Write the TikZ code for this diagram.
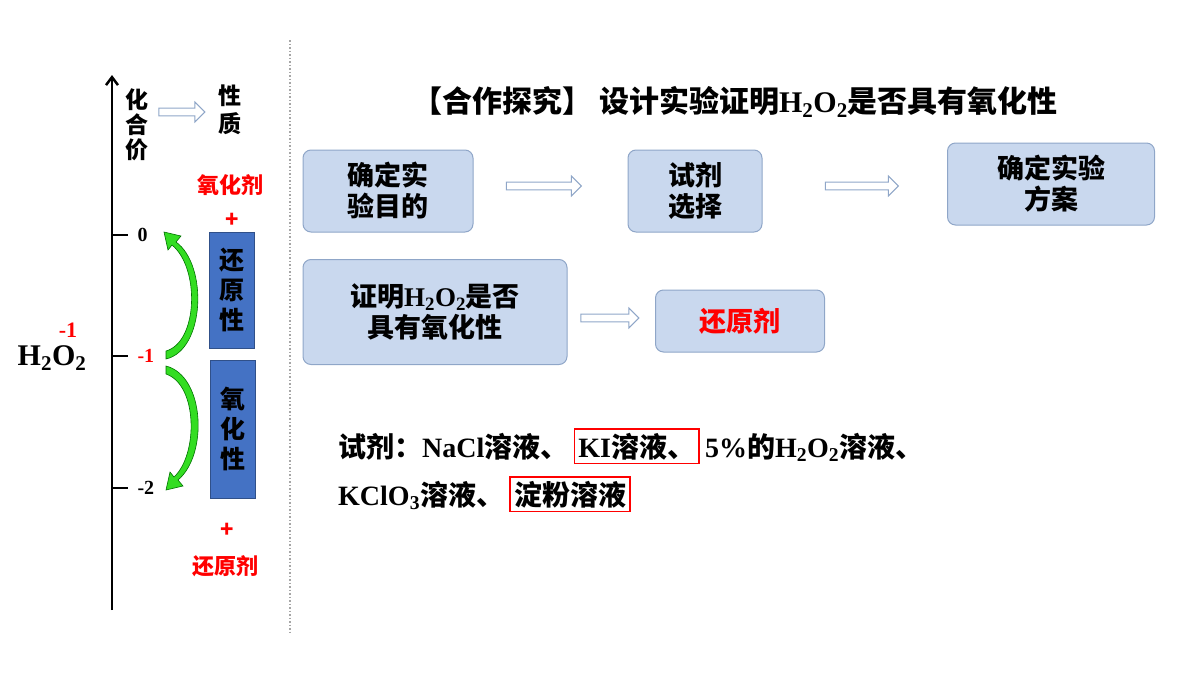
\documentclass[tikz,border=0pt]{standalone}
\usepackage{fontspec}
\setmainfont{Noto Sans CJK SC}
\newfontfamily\lat{Liberation Serif}
\usetikzlibrary{positioning,shapes.arrows,arrows.meta}
\newcommand{\hoo}{{\lat H\textsubscript{2}O\textsubscript{2}}}
\definecolor{boxfill}{HTML}{C9D8EE}
\definecolor{boxline}{HTML}{8FA6C8}
\definecolor{barblue}{HTML}{4472C4}
\definecolor{arrgreen}{HTML}{33DD22}
\tikzset{
  stagebox/.style={draw=boxline, fill=boxfill, rounded corners=8pt, line width=1pt,
    font=\bfseries\fontsize{27}{31}\selectfont, align=center, inner sep=0pt},
  hollowarr/.style={single arrow, draw=boxline, fill=white, line width=1pt,
    minimum height=#1, minimum width=20pt, single arrow head extend=4pt, inner sep=2pt},
  bluebar/.style={fill=barblue, draw=barblue!70!black, font=\bfseries\fontsize{25}{30}\selectfont,
    align=center, inner sep=0pt, minimum width=45pt},
  redlabel/.style={text=red, font=\bfseries\fontsize{22}{26}\selectfont},
  ticklabel/.style={font=\lat\bfseries\fontsize{20}{24}\selectfont},
  bodytext/.style={font=\bfseries\fontsize{28}{32}\selectfont, inner sep=2pt, anchor=base west},
  greenarc/.style={draw=green!45!black, line width=0.6pt, fill=arrgreen},
}
\begin{document}
\begin{tikzpicture}[x=1pt,y=-1pt]
\useasboundingbox (0,0) rectangle (1200,675);
% axis
\coordinate (bot) at (112,610);
\coordinate (top) at (112,75);
\draw[line width=2.5pt, -{Straight Barb[length=8pt,width=12pt]}] (bot) -- (top);
\foreach \y/\v/\c [count=\i] in {235/0/black,356/-1/red,488/-2/black}{
  \draw[line width=2pt] (112,\y) -- (128,\y);
  \node[ticklabel, text=\c, anchor=west] (t\i) at (134,\y) {\v};
}
\node[font=\bfseries\fontsize{23}{25}\selectfont, align=center] (hhj) at (137,125) {化\\合\\价};
\node[hollowarr=46pt] (ar0) at (180,112) {};
\node[font=\bfseries\fontsize{23}{28}\selectfont, align=center] (xz) at (230,110) {性\\质};
\node[redlabel] (yhj) at (230,185) {氧化剂};
\node[redlabel] (p1) at (232,220) {+};
\node[bluebar, minimum height=116pt] (hyx) at (232,290) {还\\原\\性};
\node[bluebar, minimum height=138pt] (yhx) at (233,429) {氧\\化\\性};
\node[redlabel] (p2) at (227,530) {+};
\node[redlabel] (hyj) at (225,566) {还原剂};
\node[font=\lat\bfseries\fontsize{30}{34}\selectfont] (h2o2) at (52,358) {H\textsubscript{2}O\textsubscript{2}};
\node[ticklabel, text=red, font=\lat\bfseries\fontsize{22}{24}\selectfont] (m1) at (68,330) {-1};
% green curved arrows
\draw[greenarc] (166,359) .. controls (205,350) and (208,265) .. (176,242)
  -- (181,236) -- (164,232) -- (168,250) -- (172,245)
  .. controls (200,268) and (198,342) .. (166,351) -- cycle;
\draw[greenarc] (166,366) .. controls (205,376) and (208,455) .. (178,480)
  -- (183,486) -- (166,490) -- (170,472) -- (174,477)
  .. controls (198,455) and (198,385) .. (166,374) -- cycle;
% divider
\draw[gray!70, line width=1.5pt, dotted] (290,40) -- (290,635);
% right part
\node[font=\bfseries\fontsize{30}{34}\selectfont] (title) at (735,102) {【合作探究】 设计实验证明\hoo 是否具有氧化性};
\node[stagebox, minimum width=170pt, minimum height=82pt] (s1) at (388,191) {确定实\\验目的};
\node[hollowarr=75pt] (ar1) at (542,186) {};
\node[stagebox, minimum width=134pt, minimum height=82pt] (s2) at (695,191) {试剂\\选择};
\node[hollowarr=73pt] (ar2) at (860,186) {};
\node[stagebox, minimum width=207pt, minimum height=82pt] (s3) at (1051,184) {确定实验\\方案};
\node[stagebox, minimum width=264pt, minimum height=105pt] (s4) at (435,312) {证明\hoo 是否\\具有氧化性};
\node[hollowarr=58pt] (ar3) at (608,318) {};
\node[stagebox, minimum width=169pt, minimum height=62pt, text=red] (s5) at (740,321) {还原剂};
% reagents
\node[bodytext] (r1) at (336,457) {试剂：{\lat NaCl}溶液、};
\node[bodytext, right=3pt of r1.base east, anchor=base west, draw=red, line width=1.5pt, inner sep=4pt] (ki) {{\lat KI}溶液、};
\node[bodytext, right=3pt of ki.base east, anchor=base west] (r2) {{\lat 5\%}的\hoo 溶液、};
\node[bodytext] (r3) at (336,505) {{\lat KClO\textsubscript{3}}溶液、};
\node[bodytext, right=3pt of r3.base east, anchor=base west, draw=red, line width=1.5pt, inner sep=4pt] (df) {淀粉溶液};
\end{tikzpicture}
\end{document}
